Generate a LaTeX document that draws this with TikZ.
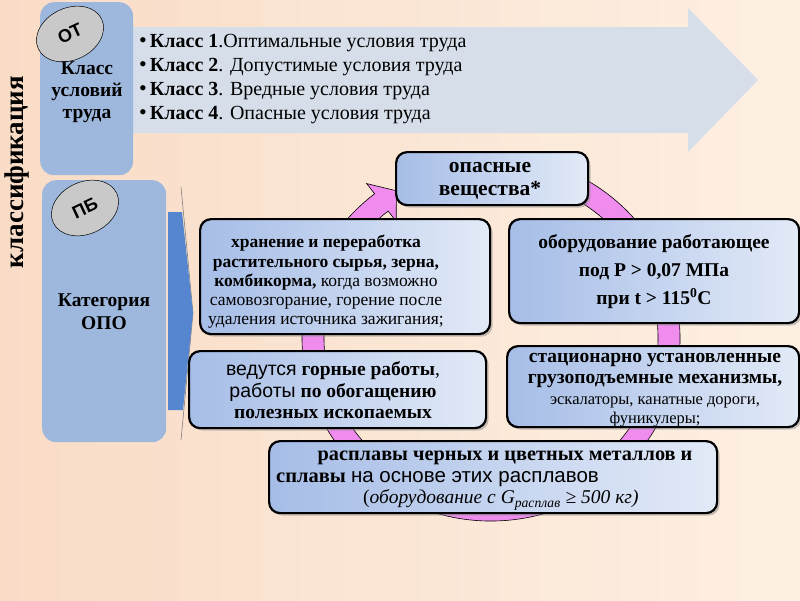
\documentclass[tikz,border=0pt]{standalone}
\usepackage{fontspec}
\setmainfont{Liberation Serif}
\setsansfont{Liberation Sans}
\usetikzlibrary{shadows,calc,shapes.geometric}
\definecolor{bgleft}{RGB}{249,220,198}
\definecolor{bgright}{RGB}{253,240,227}
\definecolor{otblue}{RGB}{157,183,221}
\definecolor{arrgray}{RGB}{214,222,234}
\definecolor{boxdark}{RGB}{166,189,231}
\definecolor{boxlight}{RGB}{226,234,247}
\definecolor{ringpink}{RGB}{240,140,238}
\definecolor{arrblue}{RGB}{86,134,208}
\definecolor{ellgray}{RGB}{201,201,201}
\newcommand{\myfs}[2]{\fontsize{#1}{#2}\selectfont}
\begin{document}
\begin{tikzpicture}[x=1pt,y=-1pt,
  cbox/.style={draw=black,line width=2.2pt,rounded corners=11pt,left color=boxdark,right color=boxlight,
    drop shadow={shadow xshift=2.5pt,shadow yshift=-2.5pt,fill=black!45},anchor=north west,inner sep=0pt},
  catbox/.style={fill=otblue,rounded corners=14pt,anchor=north west,inner sep=0pt},
  tag/.style={ellipse,draw=black,line width=0.5pt,fill=ellgray,minimum width=70pt,minimum height=52pt,rotate=25,inner sep=0pt,font=\sffamily\bfseries\myfs{18}{20}},
  txt/.style={align=center,inner sep=0pt},
  ltxt/.style={anchor=west,inner sep=0pt},
]
\useasboundingbox (0,0) rectangle (800,600);
\shade[left color=bgleft,right color=bgright] (0,0) rectangle (800,600);

% vertical title
\node[rotate=90,font=\bfseries\myfs{27}{30}] (klass) at (17,172) {классификация};

% big grey arrow
\fill[arrgray] (120,27) -- (688,27) -- (688,8) -- (758,80) -- (688,152) -- (688,133) -- (120,133) -- cycle;

% category boxes
\node[catbox,minimum width=93pt,minimum height=173pt] (otbox) at (40,2) {};
\node[catbox,minimum width=124pt,minimum height=262pt] (pbbox) at (42,180) {};
\node[tag] (ot) at (70,34) {ОТ};
\node[tag] (pb) at (85,208) {ПБ};
\node[txt,font=\bfseries\myfs{19.5}{22}] (cls) at (87,92) {Класс\\условий\\труда};
\node[txt,font=\bfseries\myfs{19.5}{23}] (kat) at (104,312) {Категория\\ОПО};

% class list
\newcommand{\bul}{{\myfs{22}{22}•}\hspace{3pt}}
\node[ltxt,font=\myfs{20}{22}] (k1) at (139,43) {\bul\textbf{Класс 1}.Оптимальные условия труда};
\node[ltxt,font=\myfs{20}{22}] (k2) at (139,67) {\bul\textbf{Класс 2}. Допустимые условия труда};
\node[ltxt,font=\myfs{20}{22}] (k3) at (139,91) {\bul\textbf{Класс 3}. Вредные условия труда};
\node[ltxt,font=\myfs{20}{22}] (k4) at (139,115) {\bul\textbf{Класс 4}. Опасные условия труда};

% blue arrow from category
\draw[gray,line width=0.6pt] (181,187) -- (193,313) -- (181,440);
\fill[arrblue] (168,212) -- (182,212) -- (193,313) -- (183,410) -- (168,410) -- cycle;

% pink circular arrow
\coordinate (C) at (491,338);
\filldraw[fill=ringpink,draw=black,line width=0.6pt]
  ($(C)+(-100:189 and 183)$) arc[start angle=-100,end angle=232,x radius=189,y radius=183]
  -- ($(C)+(232:202 and 196)$) -- ($(C)+(232:178 and 172)+(322:19)$) -- ($(C)+(232:154 and 148)$)
  -- ($(C)+(232:167 and 161)$) arc[start angle=232,end angle=-100,x radius=167,y radius=161] -- cycle;

% boxes
\node[cbox,minimum width=192pt,minimum height=53pt] (opas) at (395,151) {};
\node[cbox,minimum width=290pt,minimum height=115pt] (hran) at (199,218) {};
\node[cbox,minimum width=290pt,minimum height=104pt] (obor) at (508,218) {};
\node[cbox,minimum width=297pt,minimum height=77pt] (ved) at (188,350) {};
\node[cbox,minimum width=292pt,minimum height=81pt] (stac) at (506,345) {};
\node[cbox,minimum width=448pt,minimum height=72pt] (rasp) at (268,440) {};

% texts
\node[txt,font=\bfseries\myfs{21.5}{23}] (opast) at (490,181) {опасные\\вещества*};
\node[txt,font=\myfs{17.5}{19.2}] (hrant) at (326,282) {\textbf{хранение и переработка}\\ \textbf{растительного сырья, зерна,}\\ \textbf{комбикорма,} когда возможно\\ самовозгорание, горение после\\ удаления источника зажигания;};
\node[txt,font=\bfseries\myfs{19.5}{28}] (obort) at (654,272) {оборудование работающее\\под P > 0,07 МПа\\при t > 115\textsuperscript{0}C};
\node[txt,font=\myfs{19.5}{21.5}] (vedt) at (333,390.5) {{\sffamily ведутся} \textbf{горные работы},\\ {\sffamily работы} \textbf{по обогащению}\\ \textbf{полезных ископаемых}};
\node[txt,font=\bfseries\myfs{19.5}{21}] (stac1) at (655,370.5) {стационарно установленные\\грузоподъемные механизмы,};
\node[txt,font=\myfs{16.5}{19}] (stac2) at (655,411.5) {эскалаторы, канатные дороги,\\фуникулеры;};
\node[txt,font=\bfseries\myfs{20.3}{22}] (rasp1) at (505,458) {расплавы черных и цветных металлов и};
\node[ltxt,font=\myfs{20.5}{22}] (rasp2) at (276,479) {\textbf{сплавы} {\sffamily на основе этих расплавов}};
\node[ltxt,font=\myfs{19.5}{22}] (rasp3) at (363,500) {(\textit{оборудование с G\textsubscript{расплав} ≥ 500 кг)}};
\end{tikzpicture}
\end{document}
